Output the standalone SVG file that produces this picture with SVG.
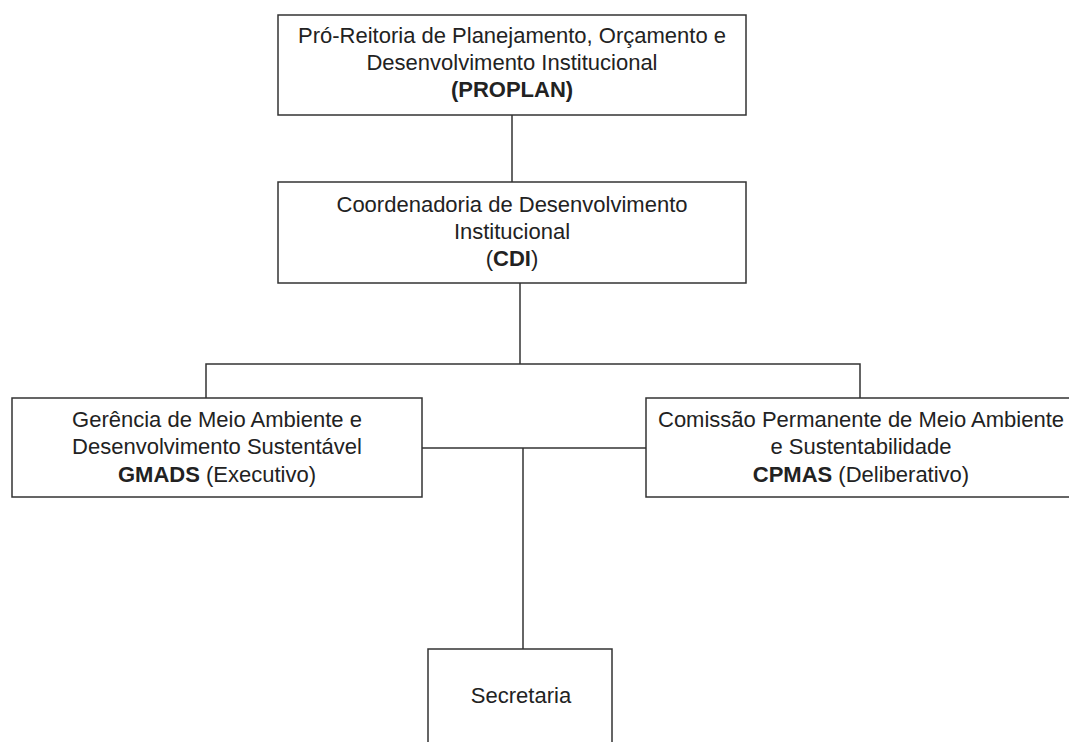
<svg xmlns="http://www.w3.org/2000/svg" width="1069" height="742" viewBox="0 0 1069 742">
<style>
.box{fill:#fff;stroke:#333;stroke-width:1.5}
.ln{fill:none;stroke:#333;stroke-width:1.5}
text{font-family:"Liberation Sans",Arial,sans-serif;font-size:22px;fill:#222;text-anchor:middle}
.b{font-weight:bold}
</style>
<rect width="1069" height="742" fill="#fff"/>
<g id="connectors">
<line class="ln" x1="512" y1="115" x2="512" y2="182"/>
<line class="ln" x1="520" y1="283" x2="520" y2="364"/>
<polyline class="ln" points="206,398 206,364 860,364 860,398"/>
<line class="ln" x1="422" y1="448" x2="646" y2="448"/>
<line class="ln" x1="523" y1="448" x2="523" y2="649"/>
</g>
<g id="proplan">
<rect class="box" x="278" y="15" width="468" height="100"/>
<text x="512" y="43">Pró-Reitoria de Planejamento, Orçamento e</text>
<text x="512" y="70">Desenvolvimento Institucional</text>
<text x="512" y="97" class="b">(PROPLAN)</text>
</g>
<g id="cdi">
<rect class="box" x="278" y="182" width="468" height="101"/>
<text x="512" y="212">Coordenadoria de Desenvolvimento</text>
<text x="512" y="239">Institucional</text>
<text x="512" y="266">(<tspan class="b">CDI</tspan>)</text>
</g>
<g id="gmads">
<rect class="box" x="12" y="398" width="410" height="99"/>
<text x="217" y="427">Gerência de Meio Ambiente e</text>
<text x="217" y="454">Desenvolvimento Sustentável</text>
<text x="217" y="482"><tspan class="b">GMADS</tspan> (Executivo)</text>
</g>
<g id="cpmas">
<rect class="box" x="646" y="398" width="430" height="99"/>
<text x="861" y="427">Comissão Permanente de Meio Ambiente</text>
<text x="861" y="454">e Sustentabilidade</text>
<text x="861" y="482"><tspan class="b">CPMAS</tspan> (Deliberativo)</text>
</g>
<g id="secretaria">
<rect class="box" x="428" y="649" width="184" height="110"/>
<text x="521" y="703">Secretaria</text>
</g>
</svg>
